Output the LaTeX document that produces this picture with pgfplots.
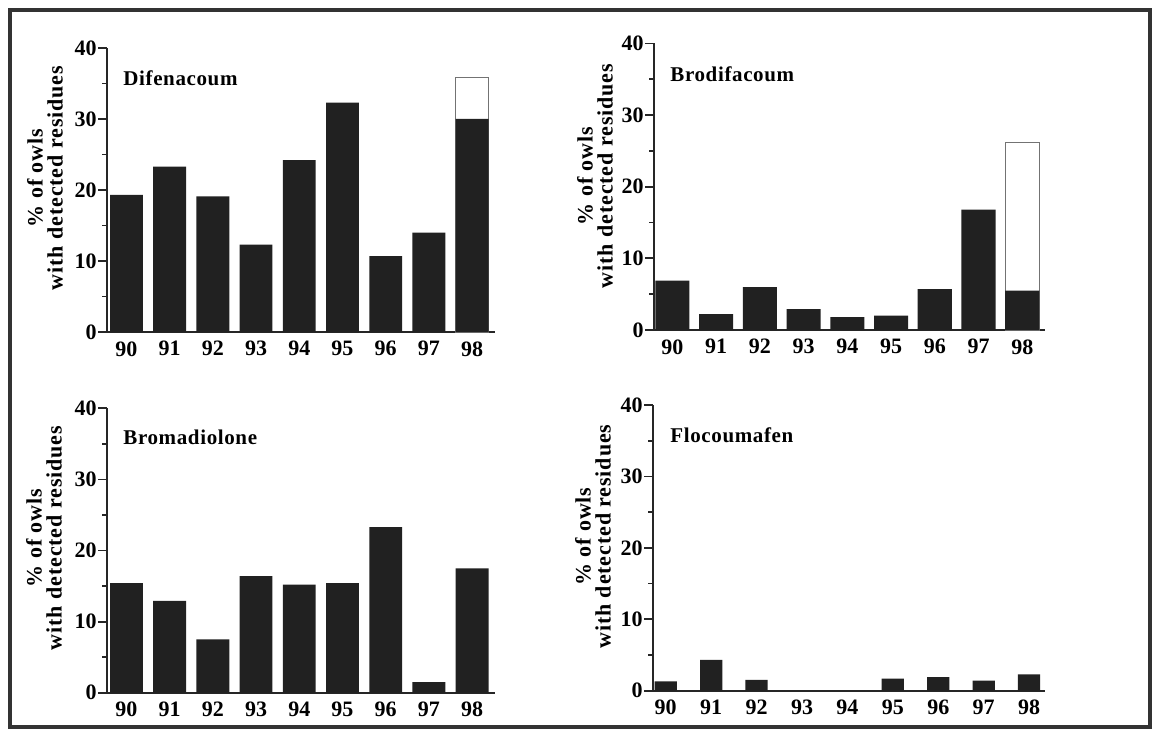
\documentclass[border=0pt]{standalone}
\usepackage{pgfplots}
\pgfplotsset{compat=1.18}
\usepackage{fontspec}
\setmainfont{Liberation Serif}
\newfontfamily\labfont[LetterSpace=4]{Liberation Serif}
\newfontfamily\titfont[LetterSpace=3]{Liberation Serif}
\definecolor{barc}{gray}{0.13}
\pgfplotsset{
 panel/.style={
  scale only axis, anchor=south west,
  axis x line*=bottom, axis y line*=left,
  ymin=0, ymax=40, ytick={0,10,20,30,40}, minor ytick={5,15,25,35},
  xtick={0,...,8}, xticklabels={90,91,92,93,94,95,96,97,98},
  tick align=outside, major tick length=4.5pt, minor tick length=2.5pt,
  xtick style={draw=none},
  ytick style={line width=0.9pt, black!85},
  axis line style={line width=1pt, black!85},
  ticklabel style={font=\fontsize{11}{11}\selectfont\bfseries},
  yticklabel style={inner sep=0.5pt},
  xticklabel style={inner sep=0pt},
  /pgf/number format/assume math mode=true,
  clip=false,
 },
 bars/.style={ybar, bar width=#1, bar shift=0pt, fill=barc, draw=none},
 hollow/.style={ybar, bar width=#1, bar shift=0pt, fill=white, draw=black!55, line width=0.5pt},
}
\begin{document}
\begin{tikzpicture}
\useasboundingbox (0,0) rectangle (577pt,364.5pt);
\fill[white] (0,0) rectangle (577pt,364.5pt);
\draw[line width=1.6pt, black!80] (5pt,1pt) rectangle (575pt,359.5pt);

% Panel 1: Difenacoum
\begin{axis}[panel, at={(53.5pt,198.5pt)}, width=194pt, height=142pt,
  xmin=-0.45, xmax=8.53]
\addplot[hollow=0.76] coordinates {(8,35.8)};
\addplot[bars=0.76] coordinates {(0,19.3) (1,23.3) (2,19.1) (3,12.3) (4,24.2) (5,32.3) (6,10.7) (7,14.0) (8,30.0)};
\end{axis}

% Panel 2: Brodifacoum
\begin{axis}[panel, at={(327pt,199.5pt)}, width=195.5pt, height=143.3pt,
  xmin=-0.42, xmax=8.52]
\addplot[hollow=0.78] coordinates {(8,26.2)};
\addplot[bars=0.78] coordinates {(0,6.9) (1,2.2) (2,6.0) (3,2.9) (4,1.8) (5,2.0) (6,5.7) (7,16.8) (8,5.5)};
\end{axis}

% Panel 3: Bromadiolone
\begin{axis}[panel, at={(53.5pt,18.15pt)}, width=194pt, height=142.2pt,
  xmin=-0.45, xmax=8.53]
\addplot[bars=0.76] coordinates {(0,15.4) (1,12.9) (2,7.5) (3,16.4) (4,15.2) (5,15.4) (6,23.3) (7,1.5) (8,17.5)};
\end{axis}

% Panel 4: Flocoumafen
\begin{axis}[panel, at={(326.5pt,19.15pt)}, width=196pt, height=142.85pt,
  xmin=-0.28, xmax=8.35]
\addplot[bars=0.49] coordinates {(0,1.3) (1,4.3) (2,1.5) (5,1.7) (6,1.9) (7,1.4) (8,2.3)};
\end{axis}

% panel titles
\node[anchor=west, inner sep=0pt, font=\titfont\bfseries\fontsize{10.5}{11}\selectfont] at (61.5pt,325.5pt) {Difenacoum};
\node[anchor=west, inner sep=0pt, font=\titfont\bfseries\fontsize{10.5}{11}\selectfont] at (335pt,327.5pt) {Brodifacoum};
\node[anchor=west, inner sep=0pt, font=\titfont\bfseries\fontsize{10.5}{11}\selectfont] at (61.5pt,145.7pt) {Bromadiolone};
\node[anchor=west, inner sep=0pt, font=\titfont\bfseries\fontsize{10.5}{11}\selectfont] at (335pt,146.7pt) {Flocoumafen};

% y labels
\foreach \px/\py in {22.5pt/275.5pt, 297.5pt/276.5pt, 22pt/95.5pt, 296.5pt/96.2pt}{
  \node[rotate=90, align=center, inner sep=0pt, font=\labfont\bfseries\fontsize{11}{10}\selectfont] at (\px,\py) {\% of owls\\with detected residues};
}
\end{tikzpicture}
\end{document}
